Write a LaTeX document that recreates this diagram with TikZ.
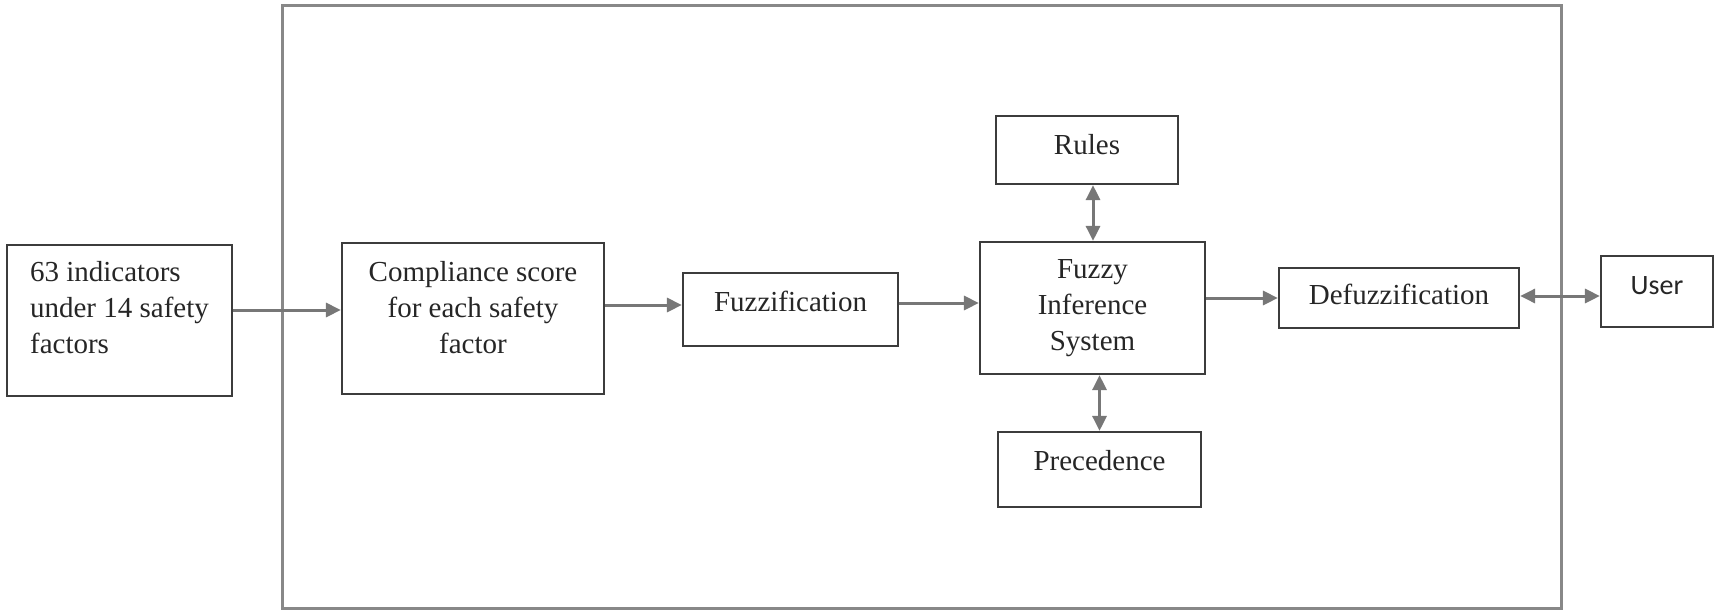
\documentclass[tikz,border=0pt]{standalone}
\usepackage{fontspec}
\setmainfont{Liberation Serif}
\newfontfamily\userfont{Carlito}
\usetikzlibrary{arrows.meta}
\definecolor{boxline}{HTML}{3C3C3C}
\definecolor{arrowgrey}{HTML}{777777}
\definecolor{framegrey}{HTML}{888888}
\begin{document}
\begin{tikzpicture}[x=1pt,y=-1pt,
  blk/.style={draw=boxline,line width=2.2pt,fill=white,inner sep=0pt,
    font=\fontsize{29}{36}\selectfont,align=center,text=black!85},
  tip/.tip={Triangle[length=15pt,width=14pt]},
  arr/.style={draw=arrowgrey,line width=3pt,-tip},
  biarr/.style={draw=arrowgrey,line width=3pt,tip-tip}]
\useasboundingbox (0,0) rectangle (1715,610);

% surrounding system frame
\draw[framegrey,line width=3pt] (282,6) rectangle (1561,608);

% blocks (text depth lifts each label towards the top of its box)
\node[blk,align=left,minimum width=225pt,minimum height=151pt,text depth=27pt] (in) at (119.5,320.5)
  {63 indicators\\under 14 safety\\factors};
\node[blk,minimum width=262pt,minimum height=151pt,text depth=23pt] (comp) at (473,318.5)
  {Compliance score\\for each safety\\factor};
\node[blk,minimum width=215pt,minimum height=73pt,text depth=17pt] (fuzz) at (790.5,309.5) {Fuzzification};
\node[blk,minimum width=225pt,minimum height=132pt,text depth=5pt] (fis) at (1092.5,308)
  {Fuzzy\\Inference\\System};
\node[blk,minimum width=182pt,minimum height=68pt,text depth=11pt] (rules) at (1087,150) {Rules};
\node[blk,minimum width=203pt,minimum height=75pt,text depth=19pt] (prec) at (1099.5,469.5) {Precedence};
\node[blk,minimum width=240pt,minimum height=60pt,text depth=7pt] (defuzz) at (1399,298) {Defuzzification};
\node[blk,minimum width=112pt,minimum height=71pt,font=\userfont\fontsize{28}{34}\selectfont,
  text depth=11pt] (user) at (1657,291.5) {User};

% connectors
\draw[arr] ([yshift=10.5pt]in.east) -- ([yshift=10.5pt]in.east -| comp.west);
\draw[arr] ([yshift=13.5pt]comp.east) -- ([yshift=13.5pt]comp.east -| fuzz.west);
\draw[arr] ([yshift=6.5pt]fuzz.east) -- ([yshift=6.5pt]fuzz.east -| fis.west);
\draw[arr] (fis.east |- defuzz.west) -- (defuzz.west);
\draw[biarr] ([xshift=6pt]rules.south) -- ([xshift=6pt]rules.south |- fis.north);
\draw[biarr] (prec.north) -- (prec.north |- fis.south);
\draw[biarr] ([yshift=2pt]defuzz.east) -- ([yshift=2pt]defuzz.east -| user.west);
\end{tikzpicture}
\end{document}
